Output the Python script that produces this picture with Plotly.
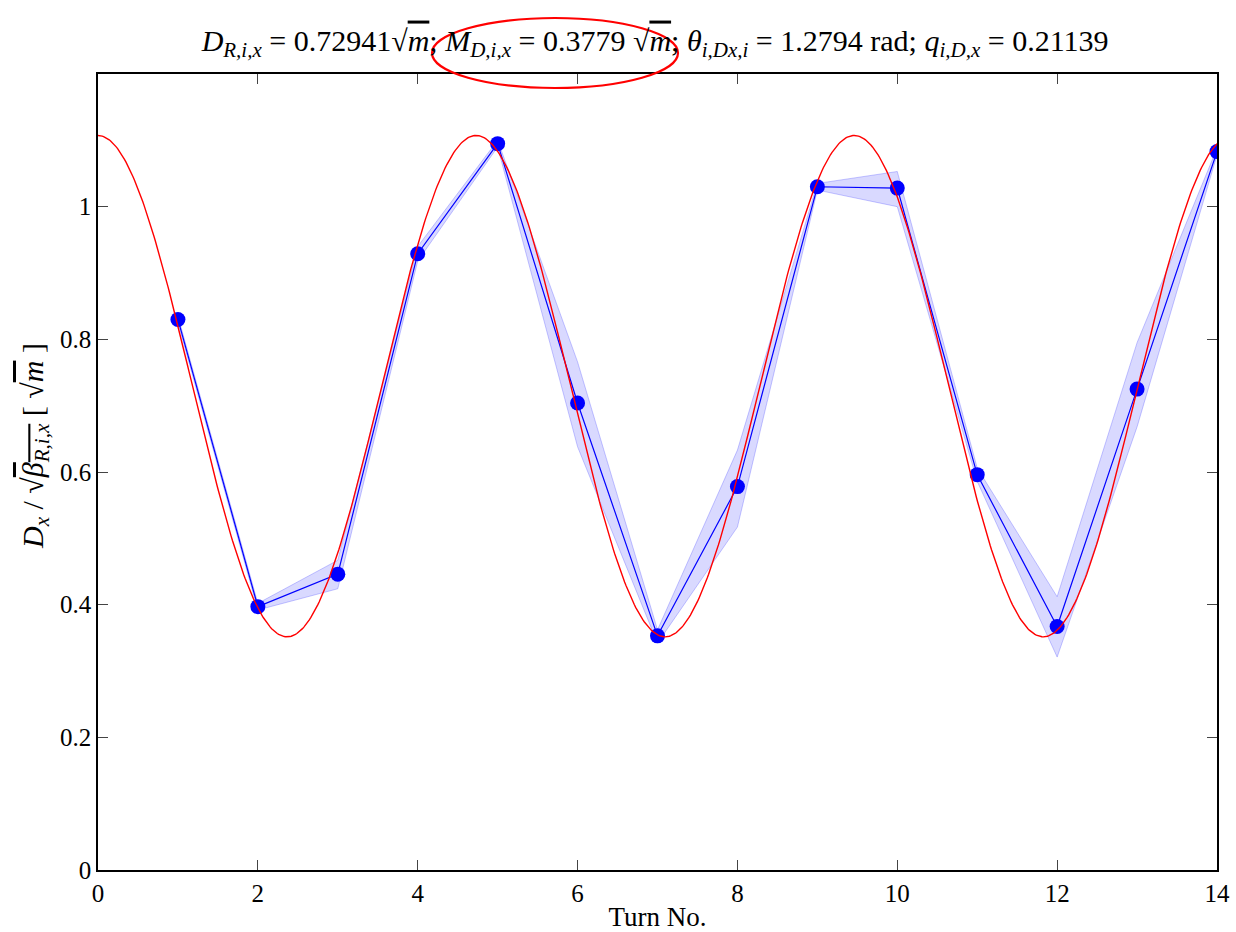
import numpy as np
import plotly.graph_objects as go

# ---- data ----
turns = [1, 2, 3, 4, 5, 6, 7, 8, 9, 10, 11, 12, 13, 14]
dx_norm = [0.830, 0.397, 0.446, 0.929, 1.095, 0.704, 0.353, 0.578, 1.030, 1.028, 0.596, 0.367, 0.725, 1.083]
band_upper = [0.835, 0.402, 0.467, 0.940, 1.100, 0.766, 0.362, 0.633, 1.035, 1.053, 0.606, 0.412, 0.795, 1.088]
band_lower = [0.825, 0.392, 0.424, 0.918, 1.090, 0.638, 0.342, 0.517, 1.025, 1.000, 0.586, 0.321, 0.668, 1.078]

# fit parameters (from the title)
D_R = 0.72941
M_D = 0.3779
theta = 1.2794
q = 0.21139

x_tick_vals = [0, 2, 4, 6, 8, 10, 12, 14]
y_tick_vals = [0, 0.2, 0.4, 0.6, 0.8, 1.0]
y_tick_text = ["0", "0.2", "0.4", "0.6", "0.8", "1"]

# fitted model curve
xf = np.linspace(0, 14, 800)
yf = D_R + M_D * np.cos(2 * np.pi * q * xf)

FONT = "Liberation Serif"

fig = go.Figure()
# band
fig.add_trace(go.Scatter(x=turns, y=band_upper, mode="lines",
                         line=dict(color="rgba(70,70,255,0.3)", width=1),
                         showlegend=False, hoverinfo="skip"))
fig.add_trace(go.Scatter(x=turns, y=band_lower, mode="lines",
                         line=dict(color="rgba(70,70,255,0.3)", width=1),
                         fill="tonexty", fillcolor="rgba(0,0,255,0.15)",
                         showlegend=False, hoverinfo="skip"))
# blue measured
fig.add_trace(go.Scatter(x=turns, y=dx_norm, mode="lines+markers",
                         line=dict(color="blue", width=1.2),
                         marker=dict(color="blue", size=15),
                         showlegend=False))
# red fit (drawn on top)
fig.add_trace(go.Scatter(x=xf, y=yf, mode="lines",
                         line=dict(color="red", width=1.4), showlegend=False))

ov = "text-decoration:overline"
title_txt = (f"<i>D</i><sub><i>R,i,x</i></sub> = {D_R}√<span style='{ov}'><i>m</i></span>; "
             f"<i>M</i><sub><i>D,i,x</i></sub> = {M_D} √<span style='{ov}'><i>m</i></span>; "
             f"<i>θ</i><sub><i>i,Dx,i</i></sub> = {theta} rad; "
             f"<i>q</i><sub><i>i,D,x</i></sub> = {q}")
ylabel_txt = (f"<i>D</i><sub><i>x</i></sub> / √<span style='{ov}'><i>β</i>"
              f"<sub><i>R,i,x</i></sub></span> [ √<span style='{ov}'><i>m</i></span> ]")

fig.update_layout(
    width=1236, height=932,
    margin=dict(l=98, r=19, t=74, b=62, autoexpand=False),
    paper_bgcolor="white", plot_bgcolor="white",
    font=dict(family=FONT, size=24, color="black"),
    title=dict(text=title_txt, x=0.53, xanchor="center", y=0.957, yanchor="middle",
               font=dict(family=FONT, size=30, color="black")),
    xaxis=dict(range=[0, 14], tickvals=x_tick_vals, ticks="inside", ticklen=10,
               showline=True, linecolor="black", linewidth=1.5, mirror="ticks",
               showgrid=False, zeroline=False, automargin=False,
               tickfont=dict(family=FONT, size=25),
               title=dict(text="Turn No.", font=dict(family=FONT, size=27), standoff=2)),
    yaxis=dict(range=[0, 1.2], tickvals=y_tick_vals, ticktext=y_tick_text,
               ticks="inside", ticklen=10,
               showline=True, linecolor="black", linewidth=1.5, mirror="ticks",
               showgrid=False, zeroline=False, automargin=False,
               tickfont=dict(family=FONT, size=25)),
)

# y-axis label as a rotated annotation (positioned like the reference)
fig.add_annotation(text=ylabel_txt, xref="paper", yref="paper",
                   x=(35 - 98) / 1119, y=(870 - 446) / 796,
                   xanchor="center", yanchor="middle", textangle=-90,
                   showarrow=False, font=dict(family=FONT, size=30, color="black"))

# red ellipse highlighting the M term
fig.add_shape(type="circle", xref="paper", yref="paper",
              x0=(432 - 98) / 1119, x1=(678 - 98) / 1119,
              y0=(870 - 88) / 796, y1=(870 - 18) / 796,
              line=dict(color="red", width=2.2))

fig.write_html("out.html")
